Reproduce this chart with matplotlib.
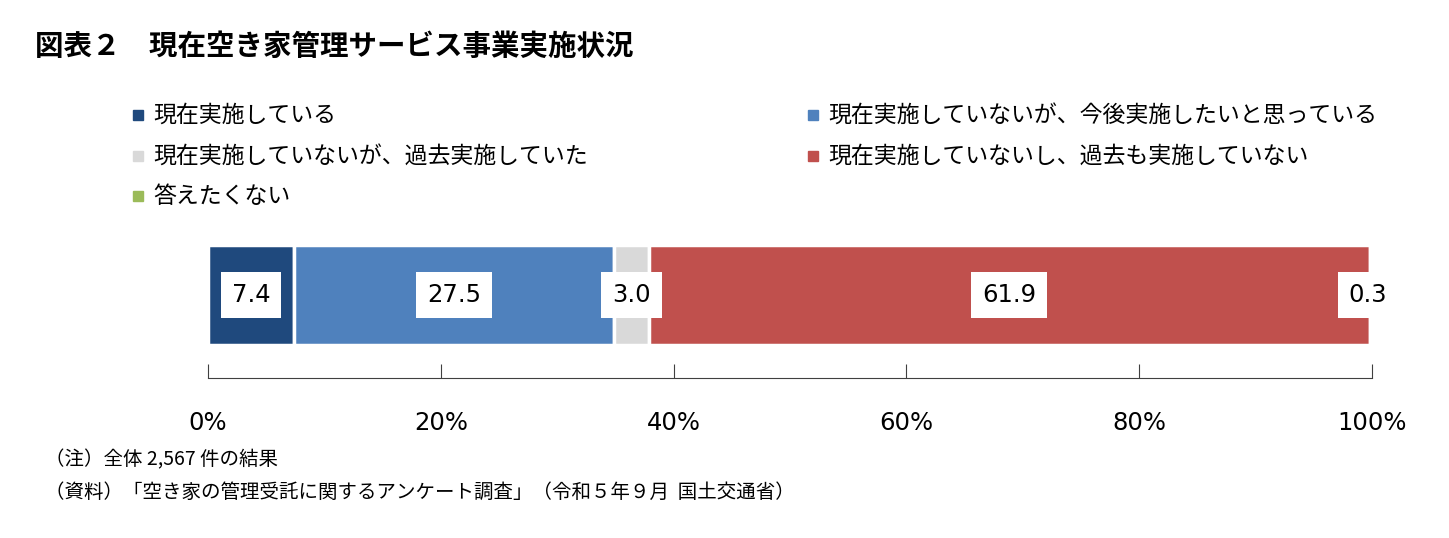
import matplotlib
matplotlib.use("Agg")
import matplotlib.pyplot as plt
from matplotlib.patches import Rectangle

plt.rcParams["font.family"] = "Noto Sans CJK JP"

categories = ["現在実施している", "現在実施していないが、今後実施したいと思っている",
              "現在実施していないが、過去実施していた", "現在実施していないし、過去も実施していない",
              "答えたくない"]
values = [7.4, 27.5, 3.0, 61.9, 0.3]
colors = ["#1F497D", "#4F81BD", "#D9D9D9", "#C0504D", "#9BBB59"]
tick_labels = ["0%", "20%", "40%", "60%", "80%", "100%"]

W, H = 1449, 538
fig = plt.figure(figsize=(W/100, H/100), dpi=100)
ax = fig.add_axes([208/W, 1-378/H, (1372-208)/W, 133/H])

left = 0
for v, c in zip(values, colors):
    ax.barh(0.83, v, left=left, height=1, color=c, edgecolor="white", linewidth=2.5)
    cx = left + v/2
    if v < 1:
        cx = left + v/2 - 0.3
    ax.text(cx, 0.83, f"{v:.1f}", ha="center", va="center", fontsize=17.5,
            family="DejaVu Sans",
            bbox=dict(boxstyle="square,pad=0.45", fc="white", ec="none"))
    left += v

ax.set_xlim(0, 100)
ax.set_ylim(0, 1.33)
for s in ["top", "left", "right"]:
    ax.spines[s].set_visible(False)
ax.spines["bottom"].set_color("#404040")
ax.set_yticks([])
ax.set_xticks([0, 20, 40, 60, 80, 100])
ax.set_xticklabels(tick_labels, fontsize=17.5, family="DejaVu Sans")
ax.tick_params(axis="x", direction="in", length=10, pad=24, color="#404040")

fig.text(35/W, 1-47/H, "図表２　現在空き家管理サービス事業実施状況", fontsize=20.5,
         fontweight="bold", va="center", ha="left")

pos = [(133, 115), (808, 115), (133, 156), (808, 156), (133, 196)]
for (x, y), cat, c in zip(pos, categories, colors):
    fig.patches.append(Rectangle((x/W, (H-y-5)/H), 10/W, 10/H, color=c,
                                 transform=fig.transFigure, figure=fig))
    fig.text((x+20)/W, 1-y/H, cat, fontsize=16.5, va="center", ha="left")

fig.text(45/W, 1-460/H, "（注）全体 2,567 件の結果", fontsize=14, va="center")
fig.text(45/W, 1-492/H, "（資料）「空き家の管理受託に関するアンケート調査」（令和５年９月  国土交通省）",
         fontsize=14, va="center")

fig.savefig("out.png", dpi=100)
